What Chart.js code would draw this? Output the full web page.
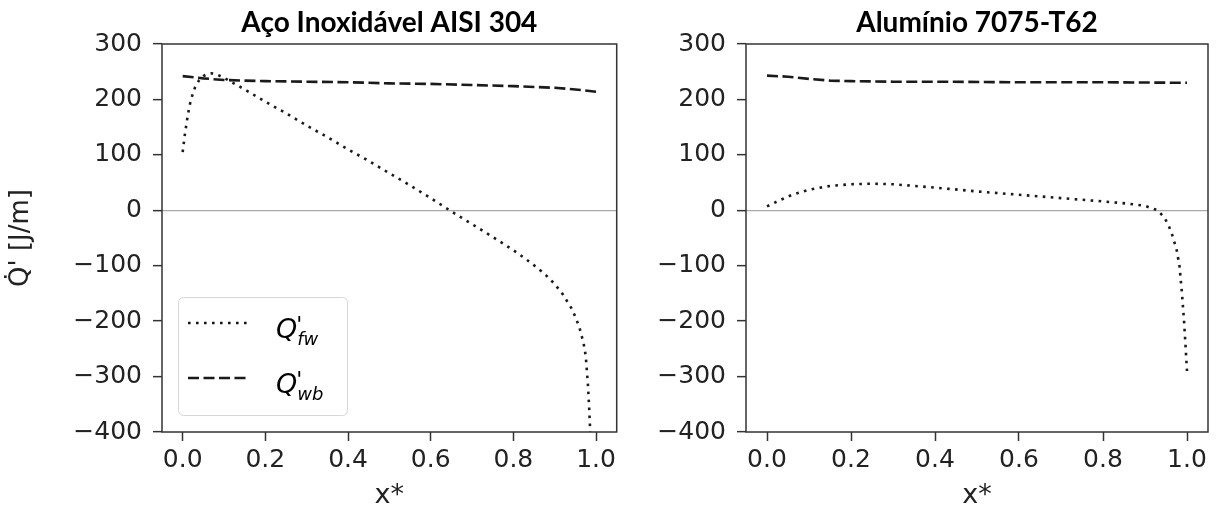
<!DOCTYPE html>
<html>
<head>
<meta charset="utf-8">
<script src="https://cdn.jsdelivr.net/npm/chart.js@4.4.1/dist/chart.umd.min.js"></script>
<style>
  html, body { margin: 0; padding: 0; background: #fff; }
  #wrap { position: relative; width: 1219px; height: 514px; overflow: hidden; }
  .panel { position: absolute; top: 0; height: 514px; }
  #left { left: 0; width: 620px; }
  #right { left: 620px; width: 599px; }
</style>
</head>
<body>
<div id="wrap">
  <div class="panel" id="left"><canvas id="steel-chart" width="620" height="514"></canvas></div>
  <div class="panel" id="right"><canvas id="alu-chart" width="599" height="514"></canvas></div>
</div>
<script>
// eixos
const xTicks = [0, 0.2, 0.4, 0.6, 0.8, 1.0];
const yTicks = [-400, -300, -200, -100, 0, 100, 200, 300];

// Aço Inoxidável AISI 304
const steelFwX = [0, 0.005, 0.01, 0.015, 0.02, 0.03, 0.04, 0.05, 0.06, 0.07, 0.08, 0.1, 0.15, 0.2, 0.25, 0.3, 0.35, 0.4, 0.45, 0.5, 0.55, 0.6, 0.65, 0.7, 0.75, 0.8, 0.83, 0.86, 0.88, 0.9, 0.92, 0.94, 0.95, 0.96, 0.97, 0.975, 0.98, 0.983, 0.986, 0.99];
const steelFw  = [105, 135, 160, 182, 200, 222, 235, 242, 246, 247, 246, 239, 218, 196, 175, 153, 132, 110, 89, 67, 45, 22, -2, -25, -48, -72, -88, -105, -118, -133, -152, -176, -192, -212, -240, -262, -310, -350, -400, -460];
const steelWbX = [0, 0.05, 0.1, 0.2, 0.3, 0.4, 0.5, 0.6, 0.7, 0.8, 0.9, 0.95, 1.0];
const steelWb  = [242, 238, 235, 233, 232, 231, 229, 228, 226, 224, 221, 218, 214];

// Alumínio 7075-T62
const aluFwX = [0, 0.03, 0.06, 0.1, 0.15, 0.2, 0.25, 0.3, 0.4, 0.5, 0.6, 0.7, 0.8, 0.86, 0.9, 0.93, 0.945, 0.955, 0.965, 0.975, 0.982, 0.988, 0.993, 0.997, 1.0];
const aluFw  = [7, 18, 28, 37, 44, 47, 48, 47, 41, 34, 28, 22, 16, 12, 8, 0, -12, -25, -45, -70, -100, -150, -200, -250, -290];
const aluWbX = [0, 0.05, 0.1, 0.15, 0.2, 0.3, 0.4, 0.6, 0.8, 1.0];
const aluWb  = [243, 241, 237, 234, 233, 232, 232, 231, 231, 230];

const seriesSubs = ['fw', 'wb'];
const INK = '#1a1a1a';

function pts(xs, ys) {
  return xs.map((x, i) => ({ x: x, y: ys[i] }));
}

function makeDatasets(fwX, fw, wbX, wb) {
  return [
    { label: "Q'fw", data: pts(fwX, fw), borderColor: INK, borderWidth: 2.6, borderDash: [2.6, 5.4],
      pointRadius: 0, fill: false, tension: 0, clip: 0 },
    { label: "Q'wb", data: pts(wbX, wb), borderColor: INK, borderWidth: 2.6, borderDash: [11, 4.5],
      pointRadius: 0, fill: false, tension: 0, clip: 0 }
  ];
}

// moldura + título do painel
const framePlugin = {
  id: 'frame',
  afterDatasetsDraw(chart, args, opts) {
    const { ctx, chartArea: a } = chart;
    ctx.save();
    ctx.strokeStyle = '#333';
    ctx.lineWidth = 1.5;
    ctx.strokeRect(a.left, a.top, a.right - a.left, a.bottom - a.top);
    ctx.fillStyle = '#000';
    ctx.font = 'bold 28px Lato';
    ctx.textAlign = 'center';
    ctx.textBaseline = 'alphabetic';
    ctx.fillText(opts.text, (a.left + a.right) / 2, 32);
    ctx.restore();
  }
};

// legenda com subscritos (só no painel da esquerda)
const mathLegend = {
  id: 'mathLegend',
  afterDraw(chart) {
    const { ctx, chartArea: a } = chart;
    const x0 = a.left + 16, y0 = a.bottom - 135, w = 169, h = 118;
    ctx.save();
    ctx.beginPath();
    ctx.roundRect(x0 + 0.5, y0 + 0.5, w, h, 5);
    ctx.fillStyle = 'rgba(255,255,255,0.85)';
    ctx.fill();
    ctx.strokeStyle = '#d6d6d6';
    ctx.lineWidth = 1;
    ctx.stroke();
    chart.data.datasets.forEach((ds, i) => {
      const ly = y0 + 26 + i * 55;
      ctx.beginPath();
      ctx.setLineDash(ds.borderDash);
      ctx.lineWidth = ds.borderWidth;
      ctx.strokeStyle = ds.borderColor;
      ctx.moveTo(x0 + 10, ly);
      ctx.lineTo(x0 + 70, ly);
      ctx.stroke();
      ctx.setLineDash([]);

      const tx = x0 + 98, by = ly + 15;
      ctx.fillStyle = '#000';
      ctx.textAlign = 'left';
      ctx.textBaseline = 'alphabetic';
      ctx.font = 'italic 27px "DejaVu Sans"';
      ctx.fillText('Q', tx, by);
      const qw = ctx.measureText('Q').width;
      ctx.font = 'italic 22px "DejaVu Sans"';
      ctx.fillText("'", tx + qw - 1, by - 6);
      ctx.font = 'italic 18px "DejaVu Sans"';
      ctx.fillText(seriesSubs[i], tx + qw, by + 7);
    });
    ctx.restore();
  }
};

function makeOptions(title, yWidth, rightPad, showYTitle) {
  return {
    responsive: false,
    animation: false,
    layout: { padding: { top: 44, right: rightPad, bottom: 0, left: 0 } },
    plugins: {
      legend: { display: false },
      tooltip: { enabled: false },
      frame: { text: title }
    },
    scales: {
      x: {
        type: 'linear', min: -0.05, max: 1.05,
        afterBuildTicks: s => { s.ticks = xTicks.map(v => ({ value: v })); },
        afterFit: s => { s.height = 82; },
        border: { display: false },
        grid: { drawOnChartArea: false, color: '#333', tickColor: '#333', tickLength: 9, tickWidth: 1.5 },
        ticks: { color: '#222', font: { family: 'DejaVu Sans', size: 25 }, padding: 4, maxRotation: 0,
                 callback: v => v.toFixed(1) },
        title: { display: true, text: 'x*', color: '#222', font: { family: 'DejaVu Sans', size: 27 },
                 padding: { top: 0, bottom: 2 } }
      },
      y: {
        min: -400, max: 300,
        afterBuildTicks: s => { s.ticks = yTicks.map(v => ({ value: v })); },
        afterFit: s => { s.width = yWidth; },
        border: { display: false },
        grid: {
          color: c => (c.tick && c.tick.value === 0) ? '#a8a8a8' : 'rgba(0,0,0,0)',
          lineWidth: 1.3, tickColor: '#333', tickLength: 9, tickWidth: 1.5
        },
        ticks: { color: '#222', font: { family: 'DejaVu Sans', size: 25 }, padding: 11,
                 callback: v => v < 0 ? '\u2212' + Math.abs(v) : String(v) },
        title: { display: showYTitle, text: "Q\u0307' [J/m]", color: '#222',
                 font: { family: 'DejaVu Sans', size: 26 }, padding: { top: 6 } }
      }
    }
  };
}

new Chart(document.getElementById('steel-chart').getContext('2d'), {
  type: 'line',
  data: { datasets: makeDatasets(steelFwX, steelFw, steelWbX, steelWb) },
  options: makeOptions('Aço Inoxidável AISI 304', 162, 2, true),
  plugins: [framePlugin, mathLegend]
});

new Chart(document.getElementById('alu-chart').getContext('2d'), {
  type: 'line',
  data: { datasets: makeDatasets(aluFwX, aluFw, aluWbX, aluWb) },
  options: makeOptions('Alumínio 7075-T62', 126, 11, false),
  plugins: [framePlugin]
});
</script>
</body>
</html>
